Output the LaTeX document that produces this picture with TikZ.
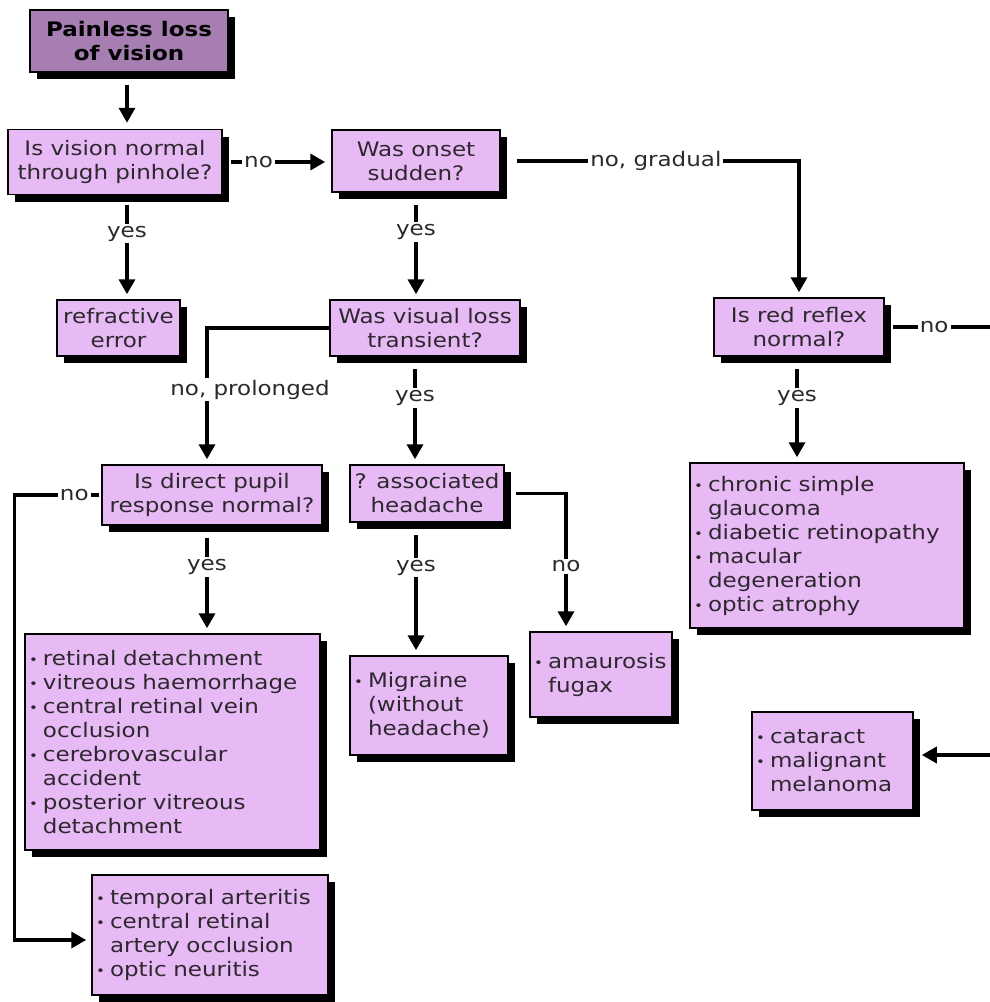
\documentclass[tikz,border=0pt]{standalone}
\usepackage{fontspec}
\setmainfont[FakeStretch=1.15]{DejaVu Sans}
\usetikzlibrary{arrows.meta,shadows}
\definecolor{boxfill}{RGB}{231,186,246}
\definecolor{titlefill}{RGB}{166,126,178}
\definecolor{txt}{RGB}{45,40,45}
\newcommand{\bl}{\makebox[14pt][l]{\raisebox{1pt}{\fontsize{13}{13}\selectfont•}}}
\newcommand{\ind}{\hspace*{14pt}}
\tikzset{
  box/.style={draw=black, line width=1.5pt, fill=boxfill, text=txt,
    font=\fontsize{20}{24}\selectfont, align=center, inner sep=3pt,
    drop shadow={shadow xshift=7pt, shadow yshift=-7pt, fill=black, opacity=1}},
  titlebox/.style={box, fill=titlefill, text=black, font=\fontsize{20}{24}\selectfont\bfseries},
  listbox/.style={box, align=left, inner sep=4pt,
    execute at begin node={\hyphenpenalty=10000\relax}},
  arr/.style={line width=3.5pt, -{Triangle[length=15pt,width=16pt]}},
  plainline/.style={line width=3.5pt},
  lbl/.style={fill=white, text=txt, inner sep=2pt, font=\fontsize{20}{22}\selectfont}
}
\begin{document}
\begin{tikzpicture}[x=1pt,y=-1pt]
\useasboundingbox[fill=white] (0,0) rectangle (990,1002);

\node[titlebox, minimum width=198pt, minimum height=62pt] (title) at (129,41) {Painless loss\\of vision};
\node[box, minimum width=214pt, minimum height=65pt] (q1) at (115,162) {Is vision normal\\through pinhole?};
\node[box, minimum width=168pt, minimum height=62pt] (q2) at (416,161) {Was onset\\sudden?};
\node[box, minimum width=123pt, minimum height=56pt] (refr) at (118.5,328) {refractive\\error};
\node[box, minimum width=190pt, minimum height=56pt] (q3) at (425,328) {Was visual loss\\transient?};
\node[box, minimum width=170pt, minimum height=58pt] (q4) at (799,327) {Is red reflex\\normal?};
\node[box, minimum width=220pt, minimum height=60pt] (q5) at (212,495) {Is direct pupil\\response normal?};
\node[box, minimum width=154pt, minimum height=57pt] (q6) at (427,493.5) {? associated\\headache};

\node[listbox, text width=266pt, minimum height=165pt] (chronic) at (827,545.5)
  {\bl chronic simple\\\ind glaucoma\\\bl diabetic retinopathy\\\bl macular\\\ind degeneration\\\bl optic atrophy};
\node[listbox, text width=287pt, minimum height=216pt] (retinal) at (172.5,742)
  {\bl retinal detachment\\\bl vitreous haemorrhage\\\bl central retinal vein\\\ind occlusion\\\bl cerebrovascular\\\ind accident\\\bl posterior vitreous\\\ind detachment};
\node[listbox, text width=150pt, minimum height=99pt] (migr) at (429,705.5)
  {\bl Migraine\\\ind (without\\\ind headache)};
\node[listbox, text width=134pt, minimum height=85pt] (amaur) at (601,674.5)
  {\bl amaurosis\\\ind fugax};
\node[listbox, text width=153pt, minimum height=98pt] (catar) at (832.5,761)
  {\bl cataract\\\bl malignant\\\ind melanoma};
\node[listbox, text width=228pt, minimum height=120pt] (temp) at (210,935)
  {\bl temporal arteritis\\\bl central retinal\\\ind artery occlusion\\\bl optic neuritis};

\coordinate (edgeA) at (990,327);
\coordinate (edgeB) at (990,755);

% connectors
\draw[arr, shorten <=12pt, shorten >=6pt] ([xshift=-2pt]title.south) -- ([xshift=-2pt]title.south |- q1.north);
\draw[arr, shorten <=8pt, shorten >=6pt] (q1.east) -- node[lbl, pos=0.33]{no} (q1.east -| q2.west);
\draw[arr, shorten <=10pt, shorten >=5pt] ([xshift=12pt]q1.south) -- node[lbl, pos=0.37]{yes} ([xshift=12pt]q1.south |- refr.north);
\draw[arr, shorten <=12pt, shorten >=5pt] (q2.south) -- node[lbl, pos=0.37]{yes} (q2.south |- q3.north);
\draw[arr, shorten <=16pt, shorten >=5pt] (q2.east) -| node[lbl, pos=0.26]{no, gradual} (q4.north);
\draw[arr, shorten >=5pt] (q3.west) -| node[lbl, pos=0.726, xshift=43pt]{no, prolonged} ([xshift=-5pt]q5.north);
\draw[arr, shorten <=12pt, shorten >=5pt] ([xshift=-10pt]q3.south) -- node[lbl, pos=0.385]{yes} ([xshift=-10pt]q3.south |- q6.north);
\draw[plainline, shorten <=8pt] (q4.east) -- node[lbl, pos=0.47]{no} (edgeA);
\draw[arr, shorten <=12pt, shorten >=5pt] ([xshift=-2pt]q4.south) -- node[lbl, pos=0.39]{yes} ([xshift=-2pt]q4.south |- chronic.north);
\draw[arr, shorten <=2pt, shorten >=5pt] (q5.west) -- node[lbl, pos=0.31]{no} ++(-87,0) |- ([yshift=-5pt]temp.west);
\draw[arr, shorten <=12pt, shorten >=5pt] ([xshift=-5pt]q5.south) -- node[lbl, pos=0.385]{yes} ([xshift=-5pt]q5.south |- retinal.north);
\draw[arr, shorten <=12pt, shorten >=5pt] ([xshift=-11pt]q6.south) -- node[lbl, pos=0.34]{yes} ([xshift=-11pt]q6.south |- migr.north);
\draw[arr, shorten <=11pt, shorten >=5pt] (q6.east) -| node[lbl, pos=0.765]{no} ([xshift=-35pt]amaur.north);
\draw[arr, shorten >=8pt] (edgeB) -- (edgeB -| catar.east);
\end{tikzpicture}
\end{document}
